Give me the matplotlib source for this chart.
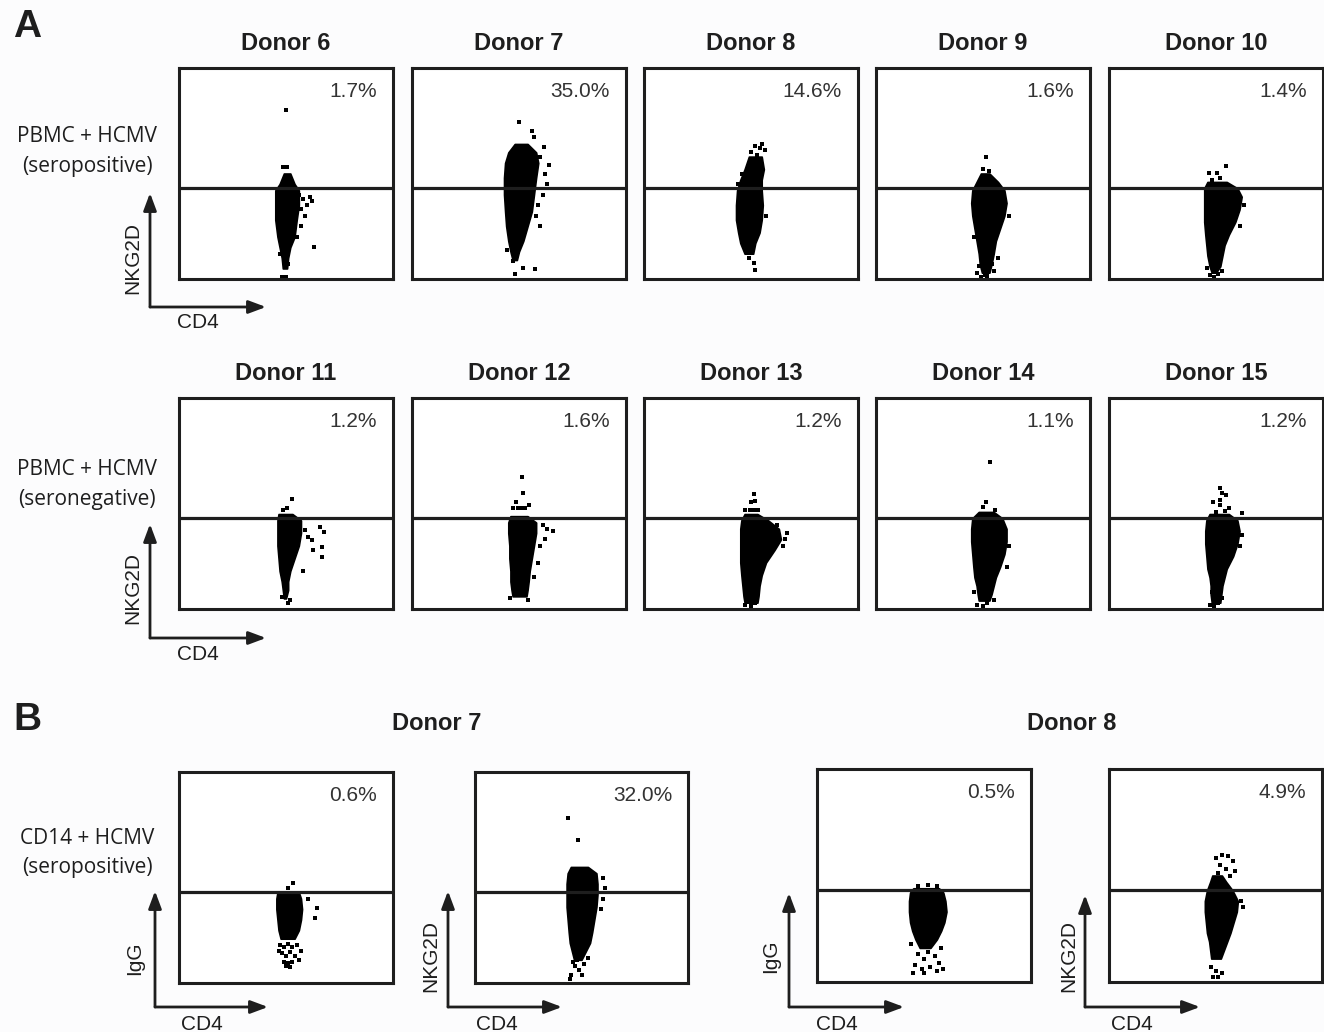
import matplotlib.pyplot as plt
from matplotlib.patches import FancyArrowPatch

# Werte in % der Kastenbreite (x) und Kastenhoehe (y)
gate = 43

# Reihe 1: PBMC + HCMV (seropositiv)
d6_lvl = [50, 45, 42, 35, 28, 20, 15, 10, 5]
d6_lo = [49, 47, 45, 45, 45, 46, 47, 48, 48.5]
d6_hi = [52, 54, 56, 56, 55, 54, 52, 51, 50.5]
d6_dx = [50, 48.5, 50.5, 56, 58, 60, 62, 59, 57, 55, 63, 48, 50, 49, 51, 47, 57, 61]
d6_dy = [80, 53, 53, 40, 38, 35, 37, 30, 25, 20, 15, 1, 1, 8, 7, 12, 33, 39]

d7_lvl = [64, 60, 55, 48, 40, 32, 25, 18, 13, 9]
d7_lo = [48, 45, 43.5, 43, 43, 43.5, 44, 45, 46, 47]
d7_hi = [54, 58, 59, 58, 57, 56, 54, 52, 50, 49]
d7_dx = [50.2, 55.9, 56.8, 61.5, 64, 52, 57.3, 47.9, 44.6, 47.4, 60, 62, 63, 61, 59, 58, 60]
d7_dy = [74.4, 70, 67.3, 62.6, 54, 5.2, 4.7, 2.4, 13.7, 8.5, 58, 50, 45, 40, 35, 30, 25]

d8_lvl = [58, 52, 47, 42, 35, 28, 22, 17, 12]
d8_lo = [49, 47, 45, 43.5, 43, 43, 44, 45, 47]
d8_hi = [55, 56, 55, 55, 55.5, 55, 54, 52, 51]
d8_dx = [52, 54, 55, 56.5, 50, 53, 51.2, 52, 47.4, 49, 57, 44, 46]
d8_dy = [63, 62, 64, 61, 60, 59, 7.6, 4.3, 16, 10, 30, 45, 50]

d9_lvl = [50, 46, 42, 36, 30, 24, 18, 12, 7, 3]
d9_lo = [49, 47, 45, 44.5, 45, 46, 47, 48, 48.5, 49.5]
d9_hi = [53, 57, 60, 61, 60, 58, 56, 55, 54, 53]
d9_dx = [51.6, 50, 53, 47, 52, 49, 55, 57, 48, 51, 54, 62, 46]
d9_dy = [57.8, 52, 51, 3, 1.5, 1, 4, 10, 6, 2, 7, 30, 20]

d10_lvl = [46, 43, 39, 33, 27, 21, 16, 11, 6, 3]
d10_lo = [46, 44.5, 44.5, 44.5, 44.5, 45, 45.5, 46, 47, 48]
d10_hi = [55, 60, 62, 61, 59, 56, 54, 53, 52, 50]
d10_dx = [54.5, 46.5, 50.7, 48, 52, 47, 49, 51, 53, 46, 63, 61]
d10_dy = [53.6, 50.2, 50.2, 47, 48, 2, 1, 2.5, 4, 5, 35, 25]

# Reihe 2: PBMC + HCMV (seronegativ)
d11_lvl = [45, 42, 36, 30, 24, 18, 13, 9, 5]
d11_lo = [46.5, 46, 46, 46, 46.5, 47, 48, 48.5, 49]
d11_hi = [53, 57, 57, 56, 54, 52, 51, 51, 50]
d11_dx = [65.9, 67.8, 66.8, 66.8, 62.6, 57.9, 60.3, 62.1, 58.9, 52.8, 48.6, 50.5, 48.1, 50, 51.9, 50.9]
d11_dy = [38.9, 36.5, 29.4, 24.6, 28, 18, 34.1, 32.7, 37.4, 52.1, 46.9, 47.9, 5.7, 6.6, 4.3, 2.8]

d12_lvl = [44, 41, 36, 30, 24, 18, 13, 9, 6]
d12_lo = [46, 45, 45, 45.5, 45.5, 46, 46, 46.5, 47]
d12_hi = [54, 58, 58, 57, 56, 55, 54.5, 54, 53.5]
d12_dx = [61, 63, 65.7, 62, 60, 59, 57, 51.2, 52.1, 48.8, 54.5, 47.4, 49.5, 51.5, 53, 46, 54]
d12_dy = [40, 38, 37, 33, 30, 22, 15, 62.6, 55, 50.7, 49.3, 47.9, 47.9, 47.9, 47.9, 5, 4.5]

d13_lvl = [45, 42, 38, 33, 28, 22, 16, 11, 6, 3]
d13_lo = [47, 45.5, 45, 45, 45, 45, 45.5, 46, 46.5, 47]
d13_hi = [53, 58, 63, 64, 61, 57, 55, 54, 53.5, 53]
d13_dx = [51.6, 49.8, 52.1, 47.4, 49.5, 51.5, 53.5, 67, 66, 62, 65, 47, 50, 52]
d13_dy = [54.5, 50.7, 51, 46.9, 46.9, 46.9, 46.9, 36, 33, 40, 30, 2, 1.5, 3]

d14_lvl = [46, 43, 38, 32, 26, 20, 15, 11, 7, 4]
d14_lo = [48, 45, 44.5, 44.5, 45, 45.5, 46, 47, 47.5, 48]
d14_hi = [55, 59, 61, 61, 60, 58, 56, 55, 54, 53]
d14_dx = [53.1, 51.2, 49.8, 55.4, 47, 50, 52, 55, 46, 61, 62]
d14_dy = [69.7, 50.7, 48.3, 46.9, 2, 1.5, 3, 4.5, 8, 20, 30]

d15_lvl = [45, 42, 37, 31, 25, 19, 15, 11, 7, 3]
d15_lo = [47, 45.5, 45, 45, 45.5, 46, 47, 47.5, 47.5, 48]
d15_hi = [56, 60, 61, 60, 58, 55, 54, 53, 52.5, 52]
d15_dx = [52.1, 52.6, 54.5, 48.8, 52.1, 52.1, 56.3, 62, 50.2, 54, 47, 49, 51, 53, 48, 62, 61]
d15_dy = [57.3, 55, 54, 50.7, 51.7, 49.3, 47.9, 45.5, 46, 46.4, 2, 1.5, 3, 5, 8, 35, 30]

# Teil B: CD14 + HCMV (seropositiv)
b7g_lvl = [43, 40, 35, 30, 25, 21]
b7g_lo = [46, 45.5, 45.5, 46, 46.5, 47.5]
b7g_hi = [56, 57, 57.5, 57, 56, 54]
b7g_dx = [47, 49, 51, 53, 55, 48, 50, 52, 54, 49, 51, 53, 50, 52, 53.3, 50.9, 60.3, 64.5, 63.6, 57, 56, 46.5]
b7g_dy = [18, 17, 18.5, 17, 18, 14, 13, 14.5, 13, 10, 9.5, 10, 8, 7.5, 47.4, 45, 39.8, 35.5, 30.8, 15, 11, 15]

b7n_lvl = [55, 52, 47, 42, 36, 30, 24, 19, 15, 11]
b7n_lo = [45, 43.5, 43, 43, 43, 43.5, 44, 44.5, 45.5, 46.5]
b7n_hi = [53, 57, 57.5, 57.5, 57, 56, 55, 54, 52, 50]
b7n_dx = [43.7, 48.4, 60, 61, 60, 59, 47, 49, 45, 50, 44.6, 46, 48, 51, 53]
b7n_dy = [78.2, 67.8, 50, 45, 40, 35, 8, 6, 4, 3.8, 2, 10, 11, 9, 12]

b8g_lvl = [44, 42, 38, 33, 28, 24, 20, 16]
b8g_lo = [45, 43.5, 43, 43, 43.5, 44.5, 46, 48]
b8g_hi = [57, 59, 60, 60.5, 59.5, 58, 56, 53]
b8g_dx = [47, 50, 52, 55, 46, 49, 53, 57, 45, 50, 56, 59, 44, 58, 47, 52, 56]
b8g_dy = [13, 11, 14, 12, 8, 6, 7, 9, 4, 4, 5, 6, 18, 16, 45, 45.5, 45]

b8n_lvl = [50, 47, 43, 38, 33, 28, 23, 19, 15, 11]
b8n_lo = [48.5, 47.5, 46, 45, 45, 45.5, 46, 47, 47.5, 48]
b8n_hi = [53, 55, 58, 60.5, 60, 58.5, 57, 55.5, 54, 52.5]
b8n_dx = [50, 53, 56, 58, 52, 55, 59, 51, 57, 48, 50, 53, 49, 51, 62, 62.9]
b8n_dy = [58, 59.6, 59, 57, 55, 53, 52, 51, 50, 7, 5, 4, 2.5, 2.3, 38, 35]

row1_names = ["Donor 6", "Donor 7", "Donor 8", "Donor 9", "Donor 10"]
row1_pct = ["1.7%", "35.0%", "14.6%", "1.6%", "1.4%"]
row2_names = ["Donor 11", "Donor 12", "Donor 13", "Donor 14", "Donor 15"]
row2_pct = ["1.2%", "1.6%", "1.2%", "1.1%", "1.2%"]
b_pct = ["0.6%", "32.0%", "0.5%", "4.9%"]

row1_clouds = [(d6_lvl, d6_lo, d6_hi, d6_dx, d6_dy), (d7_lvl, d7_lo, d7_hi, d7_dx, d7_dy),
               (d8_lvl, d8_lo, d8_hi, d8_dx, d8_dy), (d9_lvl, d9_lo, d9_hi, d9_dx, d9_dy),
               (d10_lvl, d10_lo, d10_hi, d10_dx, d10_dy)]
row2_clouds = [(d11_lvl, d11_lo, d11_hi, d11_dx, d11_dy), (d12_lvl, d12_lo, d12_hi, d12_dx, d12_dy),
               (d13_lvl, d13_lo, d13_hi, d13_dx, d13_dy), (d14_lvl, d14_lo, d14_hi, d14_dx, d14_dy),
               (d15_lvl, d15_lo, d15_hi, d15_dx, d15_dy)]
b_clouds = [(b7g_lvl, b7g_lo, b7g_hi, b7g_dx, b7g_dy), (b7n_lvl, b7n_lo, b7n_hi, b7n_dx, b7n_dy),
            (b8g_lvl, b8g_lo, b8g_hi, b8g_dx, b8g_dy), (b8n_lvl, b8n_lo, b8n_hi, b8n_dx, b8n_dy)]

W, H = 1324, 1032
ink = '#1e1e1e'
sans = 'Liberation Sans'
fig = plt.figure(figsize=(W / 100, H / 100), dpi=100, facecolor='#fcfcfd')


def ftext(x, y, s, **kw):
    kw.setdefault('family', sans)
    fig.text(x / W, 1 - y / H, s, color=ink, ha='center', va='center', **kw)


def panel(l, t, r, b, cloud, pct):
    ax = fig.add_axes([l / W, 1 - b / H, (r - l) / W, (b - t) / H])
    lvl, lo, hi, dx, dy = cloud
    ax.fill_betweenx(lvl, lo, hi, color='black', lw=1.2, edgecolor='black')
    ax.scatter(dx, dy, s=5, marker='s', color='black', linewidths=0)
    ax.axhline(gate, color=ink, lw=2.3)
    ax.set_xlim(0, 100)
    ax.set_ylim(0, 100)
    ax.set_xticks([])
    ax.set_yticks([])
    ax.set_facecolor('white')
    for sp in ax.spines.values():
        sp.set_linewidth(2.2)
        sp.set_color(ink)
    ax.text(0.925, 0.89, pct, transform=ax.transAxes, ha='right', va='center',
            family=sans, fontsize=15, color='#333333')
    return ax


def axis_arrows(x0, y0, top, right, ylab, lab_x, lab_y, cd4_x, cd4_y):
    style = '-|>,head_length=0.75,head_width=0.28'
    for end in [(x0, top), (right, y0)]:
        fig.add_artist(FancyArrowPatch((x0 / W, 1 - y0 / H), (end[0] / W, 1 - end[1] / H),
                                       transform=fig.transFigure, arrowstyle=style,
                                       mutation_scale=14, lw=2.0, color=ink,
                                       shrinkA=0, shrinkB=0))
    ftext(lab_x, lab_y, ylab, fontsize=15, rotation=90)
    ftext(cd4_x, cd4_y, 'CD4', fontsize=15)


lefts = [179, 412, 644, 876, 1109]

# Teil A, Reihe 1
for i in range(5):
    panel(lefts[i], 68, lefts[i] + 214, 279, row1_clouds[i], row1_pct[i])
    ftext(lefts[i] + 107, 44, row1_names[i], fontsize=17, weight='bold')
ftext(27, 27, 'A', fontsize=28, weight='bold')
ftext(87, 137, 'PBMC + HCMV', family='Open Sans', fontsize=15)
ftext(87, 166, '(seropositive)', family='Open Sans', fontsize=15)
axis_arrows(150, 307, 193, 266, 'NKG2D', 133, 258, 198, 323)

# Teil A, Reihe 2
for i in range(5):
    panel(lefts[i], 398, lefts[i] + 214, 609, row2_clouds[i], row2_pct[i])
    ftext(lefts[i] + 107, 374, row2_names[i], fontsize=17, weight='bold')
ftext(87, 470, 'PBMC + HCMV', family='Open Sans', fontsize=15)
ftext(87, 499, '(seronegative)', family='Open Sans', fontsize=15)
axis_arrows(150, 638, 524, 266, 'NKG2D', 133, 588, 198, 655)

# Teil B
ftext(27, 720, 'B', fontsize=28, weight='bold')
ftext(437, 724, 'Donor 7', fontsize=17, weight='bold')
ftext(1072, 724, 'Donor 8', fontsize=17, weight='bold')
ftext(87, 839, 'CD14 + HCMV', family='Open Sans', fontsize=15)
ftext(87, 868, '(seropositive)', family='Open Sans', fontsize=15)

b_boxes = [(179, 772, 393, 983), (475, 772, 688, 983), (817, 769, 1031, 982), (1109, 769, 1322, 982)]
for i in range(4):
    l, t, r, b = b_boxes[i]
    panel(l, t, r, b, b_clouds[i], b_pct[i])

axis_arrows(155, 1007, 891, 268, 'IgG', 135, 958, 202, 1024)
axis_arrows(448, 1007, 891, 562, 'NKG2D', 431, 956, 497, 1024)
axis_arrows(789, 1007, 893, 904, 'IgG', 771, 956, 837, 1024)
axis_arrows(1085, 1007, 895, 1200, 'NKG2D', 1069, 956, 1132, 1024)

fig.savefig('out.png', dpi=100, facecolor=fig.get_facecolor())
